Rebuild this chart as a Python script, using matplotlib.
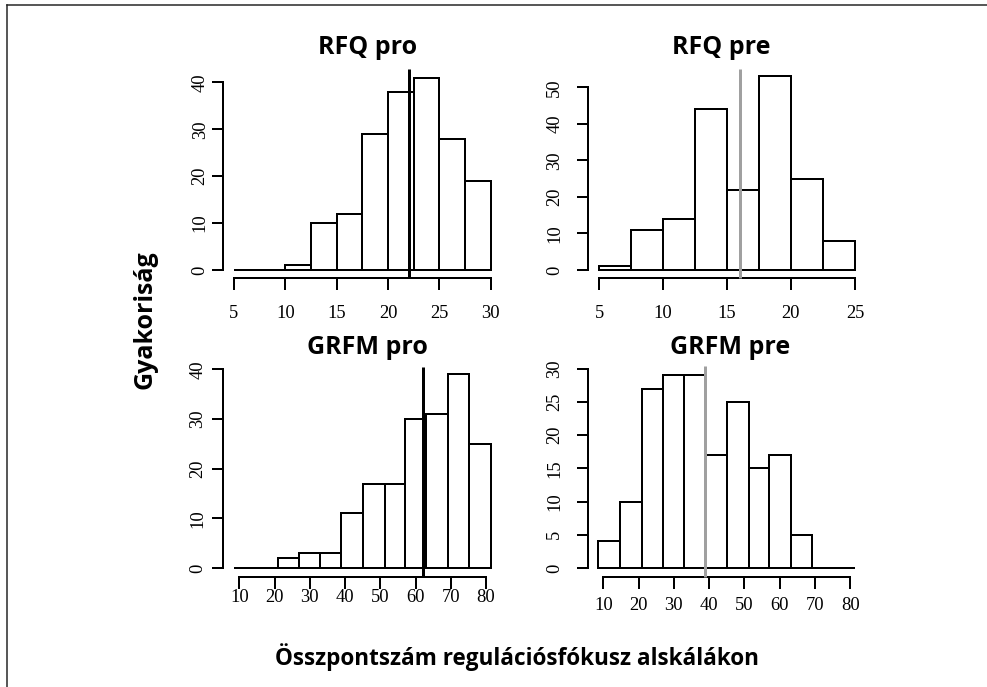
import matplotlib
matplotlib.use("Agg")
import matplotlib.pyplot as plt
from matplotlib.lines import Line2D

# ---------------- data ----------------
rfq_edges_pro = [5, 7.5, 10, 12.5, 15, 17.5, 20, 22.5, 25, 27.5, 30]
rfq_pro_counts = [0, 0, 1, 10, 12, 29, 38, 41, 28, 19]
rfq_pro_mean = 22.0

rfq_edges_pre = [5, 7.5, 10, 12.5, 15, 17.5, 20, 22.5, 25]
rfq_pre_counts = [1, 11, 14, 44, 22, 53, 25, 8]
rfq_pre_mean = 16.0

grfm_edges = [8.6, 14.7, 20.9, 27.0, 33.0, 38.9, 45.0, 51.2, 57.1, 63.1, 69.1, 75.2, 81.4]
grfm_pro_counts = [0, 0, 2, 3, 3, 11, 17, 17, 30, 31, 39, 25]
grfm_pro_mean = 62.0
grfm_pre_counts = [4, 10, 27, 29, 29, 17, 25, 15, 17, 5, 0, 0]
grfm_pre_mean = 38.7

titles = ["RFQ pro", "RFQ pre", "GRFM pro", "GRFM pre"]
xticks_rfq_pro = [5, 10, 15, 20, 25, 30]
xticks_rfq_pre = [5, 10, 15, 20, 25]
xticks_grfm = [10, 20, 30, 40, 50, 60, 70, 80]
yticks_rfq_pro = [0, 10, 20, 30, 40]
yticks_rfq_pre = [0, 10, 20, 30, 40, 50]
yticks_grfm_pro = [0, 10, 20, 30, 40]
yticks_grfm_pre = [0, 5, 10, 15, 20, 25, 30]
ylabel = "Gyakoriság"
xlabel = "Összpontszám regulációsfókusz alskálákon"

# ---------------- figure ----------------
W, H = 987, 687
DPI = 72
fig = plt.figure(figsize=(W / DPI, H / DPI), dpi=DPI)
fig.patch.set_facecolor("white")

TICKFONT = "Liberation Serif"
BOLDFONT = ["Open Sans", "DejaVu Sans"]


def place(ax, xd, xp, yd, yp, spine_x_px, spine_y_px, xmax, ymax):
    sx = (xp[1] - xp[0]) / (xd[1] - xd[0])
    sy = (yp[0] - yp[1]) / (yd[1] - yd[0])
    x0 = xd[0] - (xp[0] - spine_x_px) / sx
    y0 = yd[0] - (spine_y_px - yp[0]) / sy
    left = spine_x_px
    width = (xmax - x0) * sx
    bottom_px = spine_y_px
    height = (ymax - y0) * sy
    ax.set_position([left / W, 1 - bottom_px / H, width / W, height / H])
    ax.set_xlim(x0, xmax)
    ax.set_ylim(y0, ymax)
    return x0, y0


def panel(ax, edges, counts, mean, mean_top, mean_color, xticks, yticks,
          xpad, ypad):
    lefts = edges[:-1]
    widths = [edges[i + 1] - edges[i] for i in range(len(edges) - 1)]
    ax.bar(lefts, counts, width=widths, align="edge", facecolor="white",
           edgecolor="black", linewidth=2, zorder=2)
    y0 = ax.get_ylim()[0]
    ax.vlines(mean, y0, mean_top, colors=mean_color, linewidth=3, zorder=4,
              clip_on=False)
    for s in ["top", "right"]:
        ax.spines[s].set_visible(False)
    ax.spines["left"].set_bounds(yticks[0], yticks[-1])
    ax.spines["bottom"].set_bounds(xticks[0], xticks[-1])
    for s in ["left", "bottom"]:
        ax.spines[s].set_linewidth(2)
        ax.spines[s].set_zorder(3)
    ax.set_xticks(xticks)
    ax.set_yticks(yticks)
    ax.set_xticklabels([str(t) for t in xticks], fontfamily=TICKFONT, fontsize=18.5)
    ax.set_yticklabels([str(t) for t in yticks], fontfamily=TICKFONT, fontsize=18.5,
                       rotation=90, va="center")
    ax.tick_params(axis="x", direction="out", length=12, width=2, pad=xpad)
    ax.tick_params(axis="y", direction="out", length=11, width=2, pad=ypad)
    ax.patch.set_alpha(0)


# Panel 1: RFQ pro
ax1 = fig.add_axes([0, 0, 1, 1])
place(ax1, (5, 30), (234.0, 490.7), (0, 40), (270.0, 82.3), 222.7, 277.7, 31, 44)
panel(ax1, rfq_edges_pro, rfq_pro_counts, rfq_pro_mean, 42.8, "black",
      xticks_rfq_pro, yticks_rfq_pro, 15, 3)

# Panel 2: RFQ pre
ax2 = fig.add_axes([0, 0, 1, 1])
place(ax2, (5, 25), (599.0, 855.0), (0, 50), (270.0, 87.3), 588.3, 278.3, 26, 57)
panel(ax2, rfq_edges_pre, rfq_pre_counts, rfq_pre_mean, 54.9, "#a0a0a0",
      xticks_rfq_pre, yticks_rfq_pre, 15, 14)

# Panel 3: GRFM pro
ax3 = fig.add_axes([0, 0, 1, 1])
place(ax3, (10, 80), (239.3, 486.0), (0, 40), (568.0, 369.3), 223.3, 576.7, 83, 42)
panel(ax3, grfm_edges, grfm_pro_counts, grfm_pro_mean, 40.5, "black",
      xticks_grfm, yticks_grfm_pro, 0, 6)

# Panel 4: GRFM pre
ax4 = fig.add_axes([0, 0, 1, 1])
place(ax4, (10, 80), (603.3, 850.3), (0, 30), (568.0, 368.7), 588.3, 576.7, 83, 31.5)
panel(ax4, grfm_edges, grfm_pre_counts, grfm_pre_mean, 30.4, "#a0a0a0",
      xticks_grfm, yticks_grfm_pre, 8, 14)

# Titles
title_pos = [(368, 54), (721, 54), (367, 354), (730, 354)]
for t, (px, py) in zip(titles, title_pos):
    fig.text(px / W, 1 - py / H, t, ha="center", va="baseline",
             fontfamily=BOLDFONT, fontweight="bold", fontsize=25)

# Axis labels
fig.text(145 / W, 1 - 320 / H, ylabel, rotation=90, ha="center", va="center",
         fontfamily=BOLDFONT, fontweight="bold", fontsize=25)
fig.text(517 / W, 1 - 665 / H, xlabel, ha="center", va="baseline",
         fontfamily=BOLDFONT, fontweight="bold", fontsize=22.5)

# Frame lines (left & top)
fig.add_artist(Line2D([7 / W, 7 / W], [0, 1 - 5 / H], color="#222222", lw=1.5,
                      transform=fig.transFigure))
fig.add_artist(Line2D([7 / W, 1], [1 - 5 / H, 1 - 5 / H], color="#222222", lw=1.5,
                      transform=fig.transFigure))

fig.savefig("out.png", dpi=DPI, facecolor="white")
